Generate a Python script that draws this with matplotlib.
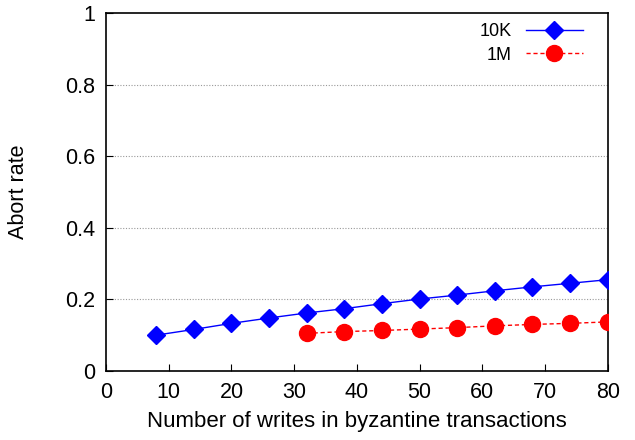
import matplotlib
matplotlib.use('Agg')
import matplotlib.pyplot as plt

plt.rcParams['font.family'] = ['Liberation Sans', 'DejaVu Sans']

# dados
escritas_10k = [8, 14, 20, 26, 32, 38, 44, 50, 56, 62, 68, 74, 80]
abort_10k = [0.100, 0.116, 0.133, 0.148, 0.162, 0.174, 0.188, 0.201, 0.212, 0.224, 0.235, 0.245, 0.255]

escritas_1m = [32, 38, 44, 50, 56, 62, 68, 74, 80]
abort_1m = [0.105, 0.110, 0.113, 0.117, 0.121, 0.126, 0.130, 0.133, 0.137]

xticks = [0, 10, 20, 30, 40, 50, 60, 70, 80]
yticks = [0, 0.2, 0.4, 0.6, 0.8, 1]
ytick_labels = ['0', '0.2', '0.4', '0.6', '0.8', '1']

fig = plt.figure(figsize=(6.35, 4.4), dpi=100)
ax = fig.add_axes([0.167, 0.157, 0.790, 0.813])

ax.plot(escritas_10k, abort_10k, color='#0000ff', lw=1, marker='D', markersize=9,
        label='10K', zorder=3)
ax.plot(escritas_1m, abort_1m, color='#ff0000', lw=1, ls=(0, (3, 2)), marker='o',
        markersize=11.5, label='1M', zorder=3)

ax.set_xlim(0, 80)
ax.set_ylim(0, 1)
ax.set_xticks(xticks)
ax.set_yticks(yticks)
ax.set_yticklabels(ytick_labels)
ax.tick_params(direction='in', length=5, labelsize=15.5, top=False, right=False, pad=8)

for y in yticks[1:-1]:
    ax.axhline(y, color='#999999', lw=0.8, ls=(0, (1, 1.5)), zorder=1)

for s in ax.spines.values():
    s.set_linewidth(1.2)

ax.set_xlabel('Number of writes in byzantine transactions', fontsize=16, labelpad=6)
ax.set_ylabel('Abort rate', fontsize=15.5, labelpad=26)

ax.legend(loc='upper right', frameon=False, markerfirst=False, fontsize=13,
          handlelength=3.15, handletextpad=0.8, labelspacing=0.35,
          borderaxespad=0, borderpad=0, bbox_to_anchor=(0.950, 0.972))

fig.savefig('out.png', dpi=100)
